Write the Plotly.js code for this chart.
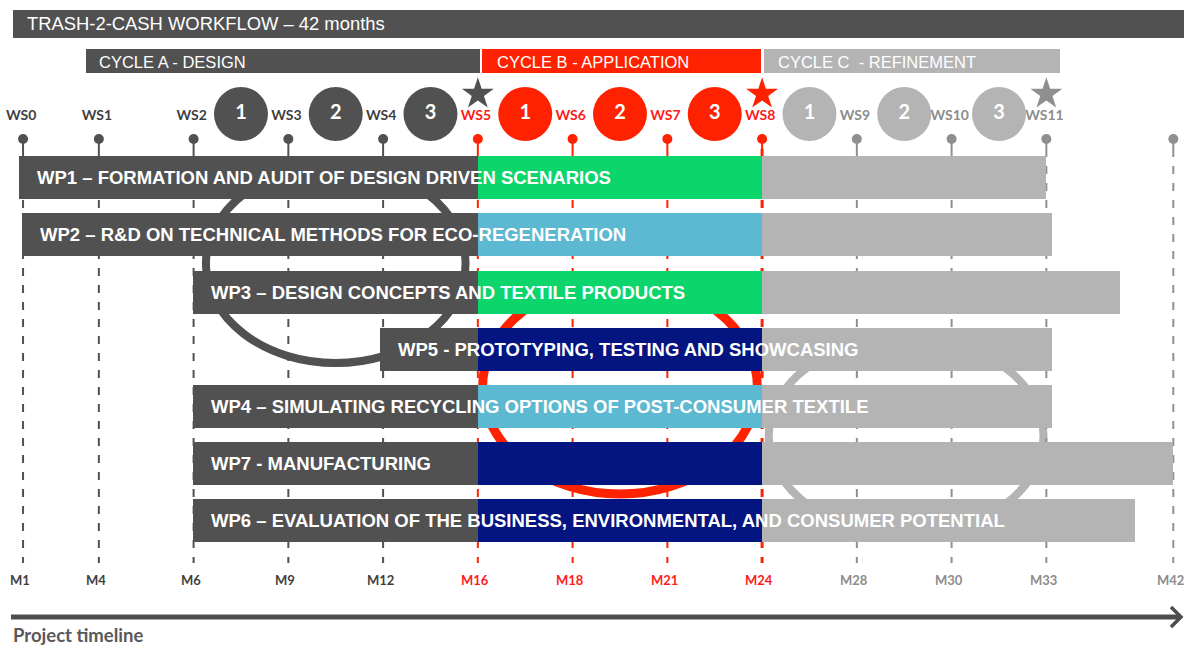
<!DOCTYPE html>
<html><head><meta charset="utf-8">
<script src="https://cdn.plot.ly/plotly-3.0.1.min.js"></script>
<style>html,body{margin:0;padding:0;background:#fff;}#chart{width:1184px;height:647px;}</style>
</head><body><div id="chart"></div>
<script>
// ---------- DATA ----------
const chartTitle = 'TRASH-2-CASH WORKFLOW \u2013 42 months';
const axisCaption = 'Project timeline';
const cycleNames = ['CYCLE A - DESIGN', 'CYCLE B - APPLICATION', 'CYCLE C\u00a0 - REFINEMENT'];
const cycleKeys = ['A', 'B', 'C'];
const milestoneWS = ['WS0','WS1','WS2','WS3','WS4','WS5','WS6','WS7','WS8','WS9','WS10','WS11',''];
const milestoneMonth = ['M1','M4','M6','M9','M12','M16','M18','M21','M24','M28','M30','M33','M42'];
const milestoneSlot = [0.2, 1, 2, 3, 4, 5, 6, 7, 8, 9, 10, 11, 12.34];
const milestoneCycle = ['A','A','A','A','A','B','B','B','B','C','C','C','C'];
const sessionNumbers = ['1','2','3','1','2','3','1','2','3'];
const sessionCycle = ['A','A','A','B','B','B','C','C','C'];
const starMilestones = ['WS5','WS8','WS11'];
const starCycle = ['A','B','C'];
const wpNames = ['WP1','WP2','WP3','WP5','WP4','WP7','WP6'];
const wpTitles = [
  'WP1 \u2013 FORMATION AND AUDIT OF DESIGN DRIVEN SCENARIOS',
  'WP2 \u2013 R&D ON TECHNICAL METHODS FOR ECO-REGENERATION',
  'WP3 \u2013 DESIGN CONCEPTS AND TEXTILE PRODUCTS',
  'WP5 - PROTOTYPING, TESTING AND SHOWCASING',
  'WP4 \u2013 SIMULATING RECYCLING OPTIONS OF POST-CONSUMER TEXTILE',
  'WP7 - MANUFACTURING',
  'WP6 \u2013 EVALUATION OF THE BUSINESS, ENVIRONMENTAL, AND CONSUMER POTENTIAL'
];
const wpStart = [0.16, 0.19, 1.99, 3.97, 1.99, 1.99, 1.99];
const wpEnd   = [11.0, 11.06, 11.78, 11.06, 11.06, 12.34, 11.94];
const wpTheme = ['green','blue','green','navy','blue','navy','navy'];

// ---------- STYLE ----------
const W = 1184, H = 647;
const PX0 = 4.1, PXS = 94.75;           // pixel = PX0 + PXS * slot
const px = p => p / W;
const py = p => 1 - p / H;
const fill = {A:'#515151', B:'#ff2200', C:'#b4b4b4'};
const lineCol = {A:'#515151', B:'#ff2200', C:'#8f8f8f'};
const txtCol = {A:'#3f3f3f', B:'#ff1a1a', C:'#8c8c8c'};
const themeCol = {green:'#0cd56b', blue:'#5cb9d1', navy:'#041480'};
const ARIAL = 'Liberation Sans, Arial, sans-serif';
const CAL = 'Lato, Carlito, Calibri, sans-serif';

const bStart = milestoneSlot[milestoneMonth.indexOf('M16')];
const cStart = milestoneSlot[milestoneMonth.indexOf('M24')];

// ---------- TRACES ----------
const traces = [];
traces.push({
  type:'bar', orientation:'h', y: wpNames, base: wpStart,
  x: wpStart.map(s => bStart - s), width: 0.751,
  marker:{color: fill.A}, hoverinfo:'skip', xaxis:'x', yaxis:'y'
});
traces.push({
  type:'bar', orientation:'h', y: wpNames, base: wpNames.map(() => bStart),
  x: wpNames.map(() => cStart - bStart), width: 0.751,
  marker:{color: wpTheme.map(t => themeCol[t])}, hoverinfo:'skip', xaxis:'x', yaxis:'y'
});
traces.push({
  type:'bar', orientation:'h', y: wpNames, base: wpNames.map(() => cStart),
  x: wpEnd.map(e => e - cStart), width: 0.751,
  marker:{color: fill.C}, hoverinfo:'skip', xaxis:'x', yaxis:'y'
});
// pins
traces.push({
  type:'scatter', mode:'markers', x: milestoneSlot, y: milestoneSlot.map(() => 139),
  marker:{size:10, color: milestoneCycle.map(c => lineCol[c])},
  hoverinfo:'skip', xaxis:'x', yaxis:'y2'
});
// WS labels
traces.push({
  type:'scatter', mode:'text', x: milestoneSlot.map(s => s - 0.02), y: milestoneSlot.map(() => 116),
  text: milestoneWS, textposition:'middle center',
  textfont:{family: CAL, size: 14, weight: 'bold', color: milestoneCycle.map(c => txtCol[c])},
  hoverinfo:'skip', xaxis:'x', yaxis:'y2'
});
// session circles
const sessX = sessionNumbers.map((_, i) => (milestoneSlot[i + 2] + milestoneSlot[i + 3]) / 2);
traces.push({
  type:'scatter', mode:'markers+text', x: sessX, y: sessX.map(() => 114),
  text: sessionNumbers, textposition:'middle center',
  textfont:{family: CAL, size: 20, weight:'bold', color:'#ffffff'},
  marker:{size: 54, color: sessionCycle.map(c => fill[c]), line:{width:0}},
  hoverinfo:'skip', xaxis:'x', yaxis:'y2'
});
// stars
const starIdx = starMilestones.map(w => milestoneWS.indexOf(w));
traces.push({
  type:'scatter', mode:'markers', x: starIdx.map(i => milestoneSlot[i]), y: starIdx.map(() => 94),
  marker:{symbol:'star', size: 24, color: starCycle.map(c => lineCol[c]), line:{width:0}},
  hoverinfo:'skip', xaxis:'x', yaxis:'y2'
});

// ---------- SHAPES ----------
const shapes = [];
shapes.push({type:'rect', xref:'paper', yref:'paper', x0:px(13), x1:px(1184), y0:py(10), y1:py(38), fillcolor: fill.A, line:{width:0}, layer:'below'});
const cycHdr = [[86, 480], [482, 761], [764, 1060]];
cycHdr.forEach((h, i) => shapes.push({type:'rect', xref:'paper', yref:'paper', x0:px(h[0]), x1:px(h[1]), y0:py(49), y1:py(73), fillcolor: fill[cycleKeys[i]], line:{width:0}, layer:'below'}));
const ell = [
  {x0:2.13, x1:4.87, y0:165, y1:363, w:8, c:'#515151'},
  {x0:5.05, x1:7.95, y0:280, y1:494, w:9, c:'#ff2200'},
  {x0:8.07, x1:10.97, y0:337.5, y1:534.5, w:8, c:'#b4b4b4'}
];
ell.forEach(e => shapes.push({type:'circle', xref:'x', yref:'paper', x0:e.x0, x1:e.x1, y0:py(e.y1), y1:py(e.y0), line:{color:e.c, width:e.w}, fillcolor:'rgba(0,0,0,0)', layer:'below'}));
milestoneSlot.forEach((s, i) => {
  const c = milestoneCycle[i];
  shapes.push({type:'line', xref:'x', yref:'paper', x0:s, x1:s, y0:py(143), y1:py(149), line:{color: lineCol[c], width: 2}, layer:'below'});
  shapes.push({type:'line', xref:'x', yref:'paper', x0:s, x1:s, y0:py(149), y1:py(563), line:{color: lineCol[c], width: milestoneMonth[i] === 'M24' ? 3 : 2, dash:'8px,9px'}, layer:'below'});
});
shapes.push({type:'line', xref:'paper', yref:'paper', x0:px(11), x1:px(1180), y0:py(617), y1:py(617), line:{color:'#4d4d4d', width:5}});
shapes.push({type:'path', xref:'paper', yref:'paper', path:`M ${px(1171)},${py(607)} L ${px(1181)},${py(617)} L ${px(1171)},${py(627)}`, line:{color:'#4d4d4d', width:3.5}});

// ---------- ANNOTATIONS ----------
const ann = [];
ann.push({xref:'paper', yref:'paper', x:px(25), y:py(24), xanchor:'left', yanchor:'middle', showarrow:false, text: chartTitle, font:{family:ARIAL, size:18.4, color:'#ffffff'}});
const cycLblX = [97, 495, 776];
cycleNames.forEach((n, i) => ann.push({xref:'paper', yref:'paper', x:px(cycLblX[i]), y:py(61.5), xanchor:'left', yanchor:'middle', showarrow:false, text:n, font:{family:ARIAL, size:16.5, color:'#ffffff'}}));
wpTitles.forEach((t, i) => ann.push({xref:'x', yref:'y', x: wpStart[i], y: wpNames[i], xanchor:'left', yanchor:'middle', xshift:16, showarrow:false, text: t, font:{family:ARIAL, size:18.5, weight:'bold', color:'#ffffff'}}));
milestoneMonth.forEach((m, i) => ann.push({xref:'x', yref:'paper', x: milestoneSlot[i], y: py(580), xanchor:'center', yanchor:'middle', xshift:-3, showarrow:false, text:m, font:{family:CAL, size:13, weight:'bold', color: txtCol[milestoneCycle[i]]}}));
ann.push({xref:'paper', yref:'paper', x:px(11), y:py(635), xanchor:'left', yanchor:'middle', showarrow:false, text: axisCaption, font:{family:CAL, size:18.5, weight:'bold', color:'#595959'}});

const layout = {
  width: W, height: H, margin:{l:0, r:0, t:0, b:0, pad:0},
  paper_bgcolor:'#ffffff', plot_bgcolor:'rgba(0,0,0,0)',
  showlegend:false, barmode:'overlay', bargap:0,
  xaxis:{range:[-PX0/PXS, (W - PX0)/PXS], visible:false, fixedrange:true, anchor:'y'},
  yaxis:{domain:[0.15054, 0.76971], type:'category', categoryarray: wpNames, categoryorder:'array', autorange:'reversed', visible:false, fixedrange:true, anchor:'x'},
  yaxis2:{domain:[0, 1], range:[H, 0], visible:false, fixedrange:true, anchor:'x'},
  shapes: shapes, annotations: ann
};
Plotly.newPlot('chart', traces, layout, {displayModeBar:false, staticPlot:true});
</script></body></html>
